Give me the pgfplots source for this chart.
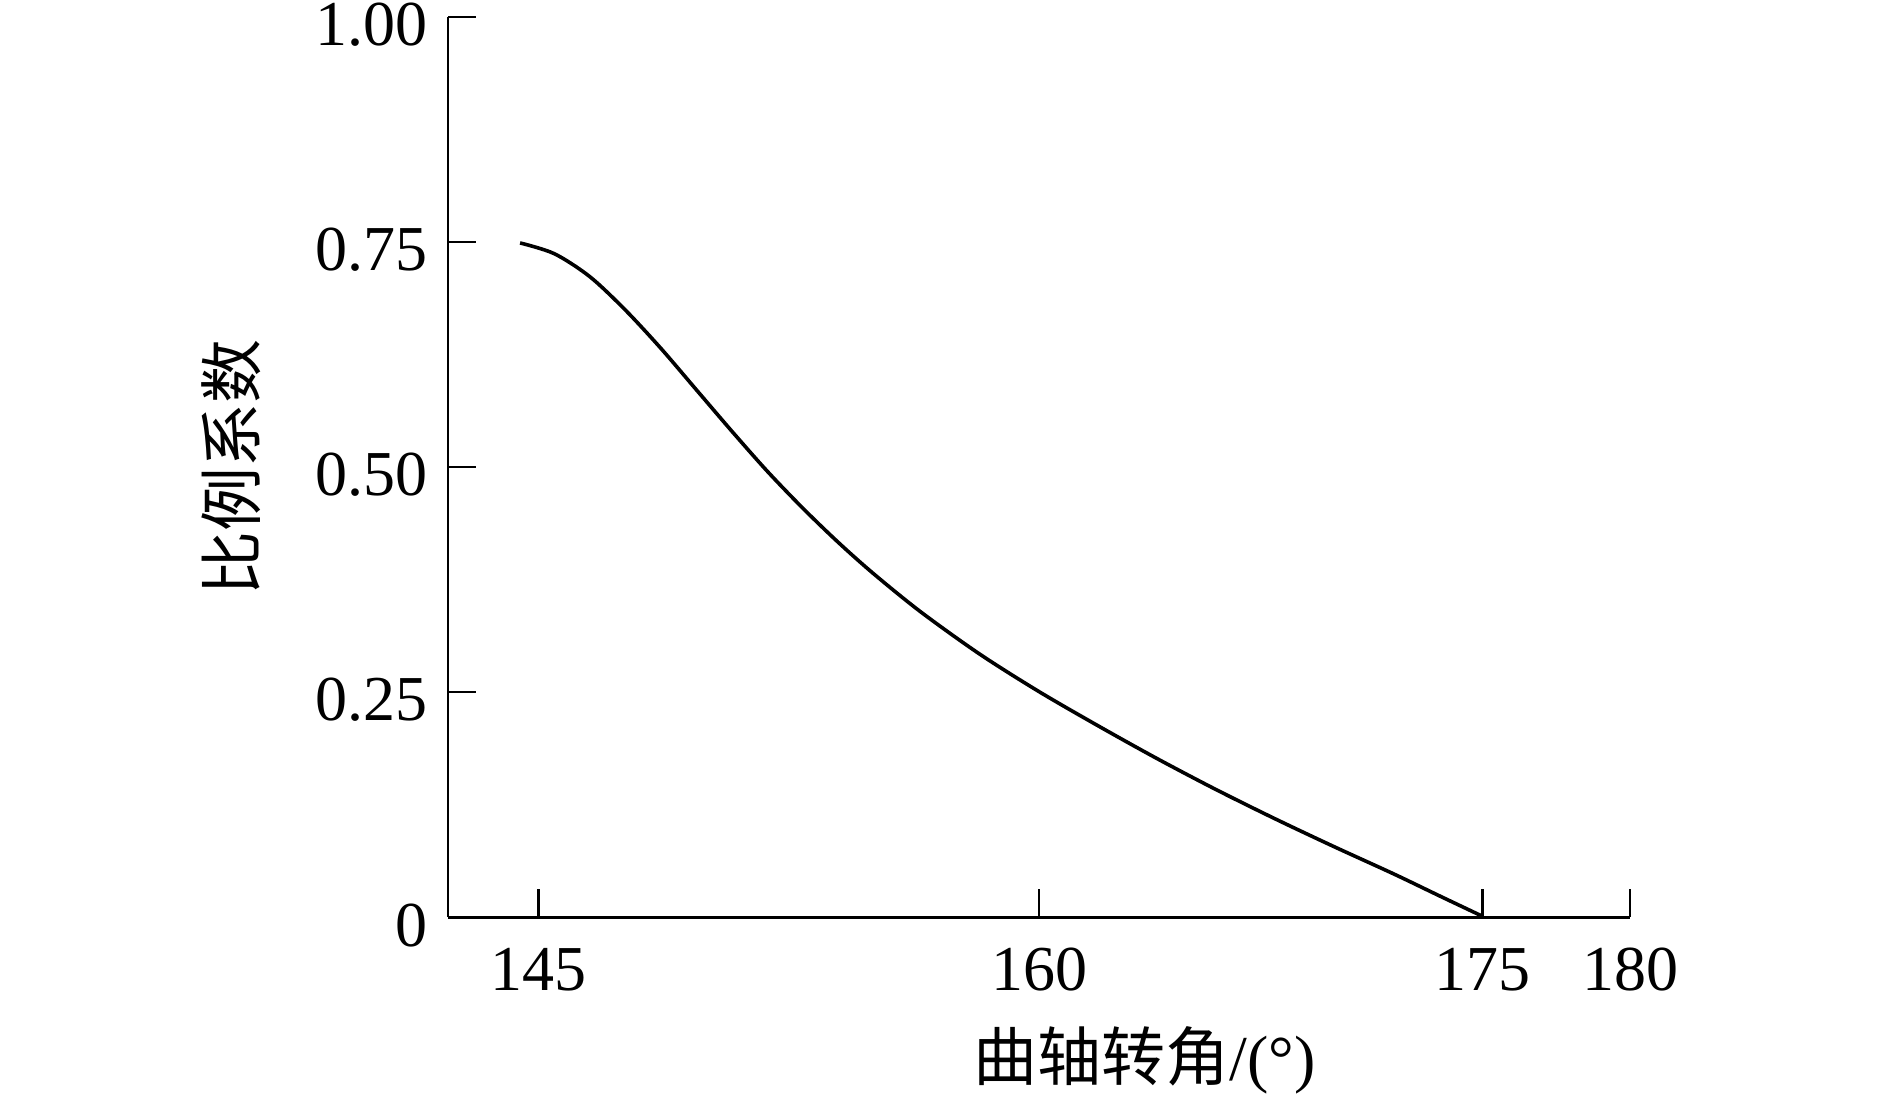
\documentclass[border=0pt]{standalone}
\usepackage{fontspec}
\setmainfont{Liberation Serif}
\newfontfamily\cjk{Noto Sans CJK SC}
\usepackage{pgfplots}
\pgfplotsset{compat=1.18}
\begin{document}
\begin{tikzpicture}
\begin{axis}[
  scale only axis, width=295.5pt, height=225pt,
  xmin=0, xmax=100, ymin=0, ymax=1,
  axis x line=bottom, axis y line=left,
  axis line style={-, line width=0.7pt, black},
  tick style={line width=0.6pt, black},
  major tick length=7pt,
  tick align=inside,
  xtick={7.66,50,87.5,100}, xticklabels={145,160,175,180},
  ytick={0,0.25,0.5,0.75,1}, yticklabels={0,0.25,0.50,0.75,1.00},
  xticklabel style={font=\fontsize{16}{19}\selectfont, inner sep=0pt, anchor=north, yshift=-7.5pt},
  yticklabel style={font=\fontsize{16}{19}\selectfont, inner sep=0pt, anchor=east, xshift=-5pt, yshift=-2pt},
  xlabel={{\cjk 曲轴转角}/(°)},
  ylabel={\cjk 比例系数},
  label style={font=\fontsize{16}{19}\selectfont},
  xlabel style={at={(axis description cs:0.589,-0.159)}, anchor=center},
  ylabel style={at={(axis description cs:-0.183,0.5)}, anchor=center},
  clip=false,
]
\addplot[black, line width=0.9pt, smooth] coordinates {
  (6.1,0.749) (9,0.737) (12,0.7115) (15,0.6745) (18,0.632)
  (21,0.586) (24,0.540) (27,0.4955) (30,0.4545) (33,0.4165)
  (36,0.3815) (40,0.339) (45,0.292) (50,0.2505) (55,0.2125)
  (60,0.176) (65,0.1415) (70,0.109) (75,0.078) (80,0.048)
  (84,0.0228) (87.5,0.001)
};
\coordinate (bbA) at (rel axis cs:-0.379,-0.2044);
\coordinate (bbB) at (rel axis cs:1.219,1.0189);
\end{axis}
\pgfresetboundingbox
\useasboundingbox (bbA) rectangle (bbB);
\end{tikzpicture}
\end{document}
